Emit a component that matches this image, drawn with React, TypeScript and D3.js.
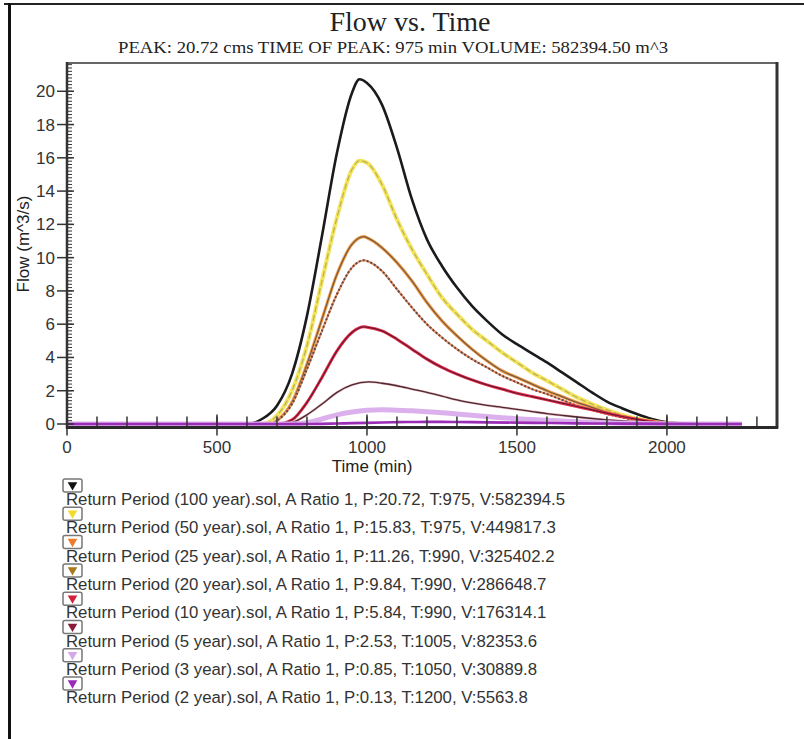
import { useEffect, useRef } from 'react';
import * as d3 from 'd3';

const title = 'Flow vs. Time';
const subtitle = 'PEAK: 20.72 cms  TIME OF PEAK: 975 min  VOLUME: 582394.50 m^3';

const xTicks = [0, 500, 1000, 1500, 2000];
const yTicks = [0, 2, 4, 6, 8, 10, 12, 14, 16, 18, 20];

// [time (min), flow (m^3/s)]
const s100 = [[0,0],[600,0],[650,0.3],[700,1.1],[750,3.0],[800,6.5],[850,11.3],[900,16.3],[950,19.9],[975,20.72],[1000,20.5],[1050,19.2],[1100,16.6],[1150,13.5],[1200,11.1],[1250,9.5],[1300,8.2],[1350,7.1],[1400,6.2],[1450,5.4],[1500,4.8],[1550,4.25],[1600,3.7],[1650,3.1],[1700,2.5],[1750,1.9],[1800,1.35],[1850,0.95],[1900,0.6],[1950,0.3],[2000,0.1],[2050,0.03],[2100,0],[2250,0]];
const s50 = [[0,0],[650,0],[700,0.5],[750,2.0],[800,4.7],[850,8.6],[900,12.4],[950,15.3],[975,15.83],[1000,15.7],[1050,14.4],[1100,12.3],[1150,10.5],[1200,9.0],[1250,7.6],[1300,6.6],[1350,5.7],[1400,5.0],[1450,4.3],[1500,3.7],[1550,3.1],[1600,2.6],[1650,2.1],[1700,1.6],[1750,1.2],[1800,0.85],[1850,0.55],[1900,0.32],[1950,0.15],[2000,0.05],[2050,0],[2250,0]];
const s25 = [[0,0],[680,0],[700,0.2],[750,1.3],[800,3.6],[850,6.3],[900,9.0],[950,10.8],[990,11.26],[1000,11.2],[1050,10.6],[1100,9.7],[1150,8.6],[1200,7.3],[1250,6.2],[1300,5.3],[1350,4.5],[1400,3.8],[1450,3.2],[1500,2.8],[1550,2.4],[1600,2.0],[1650,1.65],[1700,1.3],[1750,1.0],[1800,0.7],[1850,0.45],[1900,0.25],[1950,0.1],[2000,0.03],[2050,0],[2250,0]];
const s20 = [[0,0],[680,0],[700,0.2],[750,1.2],[800,3.3],[850,5.6],[900,7.8],[950,9.4],[990,9.84],[1000,9.8],[1050,9.2],[1100,8.1],[1150,7.0],[1200,6.0],[1250,5.2],[1300,4.5],[1350,3.9],[1400,3.4],[1450,2.9],[1500,2.5],[1550,2.1],[1600,1.8],[1650,1.45],[1700,1.1],[1750,0.85],[1800,0.6],[1850,0.4],[1900,0.22],[1950,0.1],[2000,0.03],[2050,0],[2250,0]];
const s10 = [[0,0],[700,0],[750,0.25],[800,1.3],[850,2.8],[900,4.4],[950,5.5],[990,5.84],[1000,5.82],[1050,5.6],[1100,5.1],[1150,4.5],[1200,3.9],[1250,3.4],[1300,3.0],[1350,2.65],[1400,2.35],[1450,2.1],[1500,1.85],[1550,1.65],[1600,1.45],[1650,1.25],[1700,1.05],[1750,0.85],[1800,0.65],[1850,0.45],[1900,0.28],[1950,0.15],[2000,0.06],[2050,0.02],[2100,0],[2250,0]];
const s5 = [[0,0],[720,0],[750,0.08],[800,0.55],[850,1.2],[900,1.9],[950,2.35],[1005,2.53],[1050,2.45],[1100,2.3],[1150,2.1],[1200,1.9],[1250,1.68],[1300,1.45],[1350,1.27],[1400,1.12],[1450,1.0],[1500,0.88],[1550,0.75],[1600,0.62],[1650,0.52],[1700,0.42],[1750,0.33],[1800,0.25],[1850,0.18],[1900,0.12],[1950,0.07],[2000,0.04],[2050,0.02],[2100,0],[2250,0]];
const s3 = [[0,0],[750,0],[800,0.08],[850,0.3],[900,0.55],[950,0.72],[1000,0.82],[1050,0.85],[1100,0.83],[1150,0.79],[1200,0.74],[1250,0.68],[1300,0.6],[1350,0.52],[1400,0.45],[1450,0.38],[1500,0.32],[1550,0.27],[1600,0.22],[1650,0.18],[1700,0.14],[1750,0.1],[1800,0.07],[1850,0.05],[1900,0.03],[1950,0.02],[2000,0.01],[2050,0],[2250,0]];
const s2 = [[0,0],[800,0],[850,0.01],[900,0.03],[950,0.05],[1000,0.07],[1050,0.09],[1100,0.11],[1150,0.12],[1200,0.13],[1250,0.13],[1300,0.12],[1400,0.1],[1500,0.08],[1600,0.06],[1700,0.04],[1800,0.03],[1900,0.02],[2000,0.01],[2100,0],[2250,0]];

const legendLabels = [
  'Return Period (100 year).sol, A Ratio 1, P:20.72, T:975, V:582394.5',
  'Return Period (50 year).sol, A Ratio 1, P:15.83, T:975, V:449817.3',
  'Return Period (25 year).sol, A Ratio 1, P:11.26, T:990, V:325402.2',
  'Return Period (20 year).sol, A Ratio 1, P:9.84, T:990, V:286648.7',
  'Return Period (10 year).sol, A Ratio 1, P:5.84, T:990, V:176314.1',
  'Return Period (5 year).sol, A Ratio 1, P:2.53, T:1005, V:82353.6',
  'Return Period (3 year).sol, A Ratio 1, P:0.85, T:1050, V:30889.8',
  'Return Period (2 year).sol, A Ratio 1, P:0.13, T:1200, V:5563.8',
];
const markerColors = ['#111111', '#f2dc2a', '#ee7a2a', '#a87a1c', '#d0203a', '#8a1a38', '#d6a8ea', '#9a2ab8'];

// drawn back to front: each layer is [stroke, width, dash]
const seriesData = [s100, s50, s25, s20, s10, s5, s3, s2];
const seriesStyles = [
  [['#1b1b1f', 2.6, null]],
  [['#f3e45a', 4, null], ['#b9b060', 1.2, '6,3']],
  [['#f2a24a', 3.2, null], ['#7a5844', 1.3, null]],
  [['#f08a5a', 2, null], ['#5a4a4a', 2, '2,2']],
  [['#ea3050', 3, null], ['#6a1a2c', 1.2, null]],
  [['#e9b0b8', 2.4, null], ['#4a2a32', 1.3, null]],
  [['#dcb0ec', 5, null]],
  [['#9a2cb6', 2.6, null]],
];

export default function App() {
  const ref = useRef<SVGSVGElement>(null);
  useEffect(() => {
    if (!ref.current) return;
    const svg = d3.select(ref.current);
    svg.selectAll('*').remove();
    const left = 67, right = 777, top = 63, bottom = 424, axisY = 427.5;
    const x = d3.scaleLinear().domain([0, 2367]).range([left, right]);
    const y = d3.scaleLinear().domain([0, 21.7]).range([bottom, top]);
    const sans = 'Liberation Sans, Arial, sans-serif';
    const serif = 'Liberation Serif, Times New Roman, serif';

    svg.append('rect').attr('width', 804).attr('height', 739).attr('fill', '#fff');
    // outer frame
    svg.append('line').attr('x1', 4).attr('x2', 804).attr('y1', 4).attr('y2', 4).attr('stroke', '#222').attr('stroke-width', 2);
    svg.append('line').attr('x1', 9.5).attr('x2', 9.5).attr('y1', 3).attr('y2', 739).attr('stroke', '#111').attr('stroke-width', 3);

    svg.append('text').attr('x', 410).attr('y', 31).attr('text-anchor', 'middle')
      .style('font-family', serif).style('font-size', '28px').attr('fill', '#222').text(title);
    svg.append('text').attr('x', 393).attr('y', 53).attr('text-anchor', 'middle')
      .attr('textLength', 550).attr('lengthAdjust', 'spacingAndGlyphs')
      .style('font-family', serif).style('font-size', '17px').attr('fill', '#222').text(subtitle);

    // plot frame
    svg.append('line').attr('x1', left).attr('x2', right).attr('y1', top).attr('y2', top).attr('stroke', '#666').attr('stroke-width', 2);
    svg.append('line').attr('x1', right).attr('x2', right).attr('y1', top - 1).attr('y2', axisY + 1).attr('stroke', '#333').attr('stroke-width', 3);

    // curves
    const line = d3.line<number[]>().x(d => x(d[0])).y(d => y(d[1])).curve(d3.curveMonotoneX);
    seriesData.forEach((data, i) => {
      seriesStyles[i].forEach(([stroke, w, dash]) => {
        svg.append('path').datum(data).attr('d', line).attr('fill', 'none')
          .attr('stroke', stroke as string).attr('stroke-width', w as number)
          .attr('stroke-dasharray', dash as string | null).attr('stroke-linejoin', 'round');
      });
    });

    // y axis
    const ga = svg.append('g').attr('stroke', '#333');
    d3.range(0, 21.71, 0.2).forEach(v => {
      ga.append('line').attr('x1', left).attr('x2', left + 5).attr('y1', y(v)).attr('y2', y(v)).attr('stroke-width', 1);
    });
    yTicks.forEach(v => {
      ga.append('line').attr('x1', left - 10).attr('x2', left + 7).attr('y1', y(v)).attr('y2', y(v)).attr('stroke-width', 1.5);
      svg.append('text').attr('x', left - 12).attr('y', y(v) + 6).attr('text-anchor', 'end')
        .style('font-family', sans).style('font-size', '17px').attr('fill', '#333').text(v);
    });
    ga.append('line').attr('x1', left).attr('x2', left).attr('y1', top - 1).attr('y2', axisY + 1).attr('stroke-width', 2.5);

    // x axis
    d3.range(100, 2367, 100).forEach(t => {
      ga.append('line').attr('x1', x(t)).attr('x2', x(t)).attr('y1', axisY).attr('y2', axisY - 11).attr('stroke-width', 1.5);
    });
    xTicks.forEach(t => {
      ga.append('line').attr('x1', x(t)).attr('x2', x(t)).attr('y1', axisY - 13).attr('y2', axisY + 8).attr('stroke-width', 1.5);
      svg.append('text').attr('x', x(t)).attr('y', 453).attr('text-anchor', 'middle')
        .style('font-family', sans).style('font-size', '17px').attr('fill', '#333').text(t);
    });
    ga.append('line').attr('x1', left - 1).attr('x2', right + 1).attr('y1', axisY).attr('y2', axisY).attr('stroke', '#2a2a2a').attr('stroke-width', 3);

    svg.append('text').attr('x', 372).attr('y', 472).attr('text-anchor', 'middle')
      .style('font-family', sans).style('font-size', '17px').attr('fill', '#222').text('Time (min)');
    svg.append('text').attr('transform', 'translate(29,244) rotate(-90)').attr('text-anchor', 'middle')
      .style('font-family', sans).style('font-size', '17px').attr('fill', '#222').text('Flow (m^3/s)');

    // legend
    legendLabels.forEach((lbl, i) => {
      const yy = 505 + i * 28.3;
      const g = svg.append('g').attr('transform', `translate(63,${yy - 26})`);
      g.append('rect').attr('width', 19).attr('height', 13).attr('rx', 2).attr('fill', '#fff')
        .attr('stroke', '#777').attr('stroke-width', 1.5);
      g.append('path').attr('d', d3.symbol(d3.symbolTriangle, 40)()).attr('transform', 'translate(9.5,6) rotate(180)')
        .attr('fill', markerColors[i]);
      svg.append('text').attr('x', 66).attr('y', yy).style('font-family', sans).style('font-size', '16.8px')
        .attr('fill', '#333').text(lbl);
    });
  }, []);
  return <svg ref={ref} width={804} height={739} style={{ position: 'absolute', left: 0, top: 0 }} />;
}
